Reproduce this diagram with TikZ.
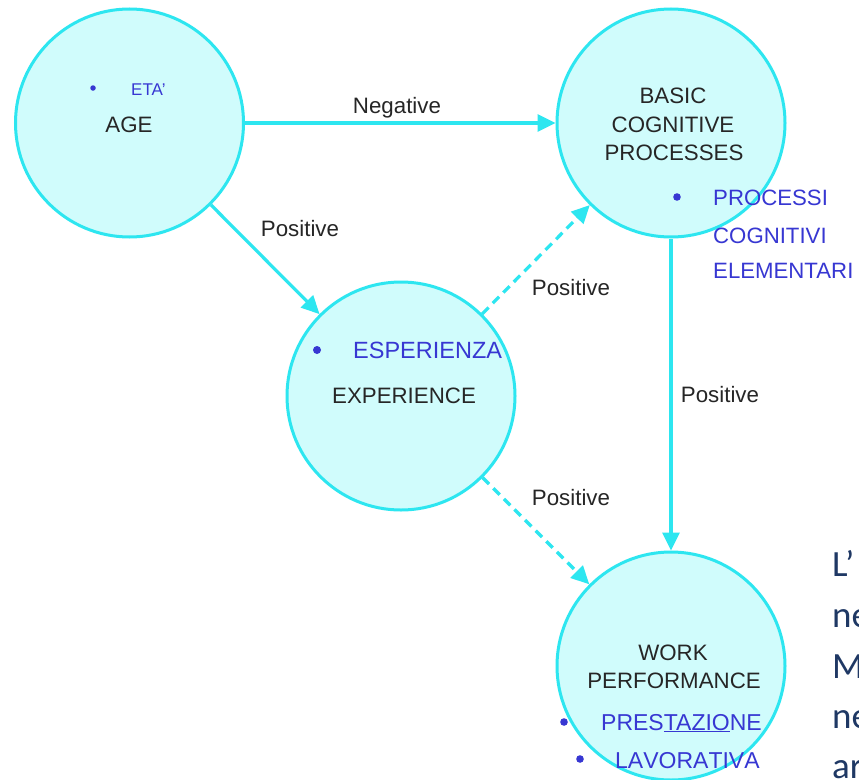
\documentclass[tikz,border=0pt]{standalone}
\usepackage{fontspec}
\setmainfont{Liberation Sans}
\newfontfamily\calib{Carlito}
\newfontfamily\nokern[Kerning=Off]{Liberation Sans}
\usetikzlibrary{arrows.meta}
\definecolor{cyanline}{RGB}{45,230,240}
\definecolor{cyanfill}{RGB}{208,252,252}
\definecolor{bluetxt}{RGB}{55,55,210}
\definecolor{navy}{RGB}{31,56,100}
\begin{document}
\begin{tikzpicture}[x=1pt,y=-1pt,
  circ/.style={circle,draw=cyanline,fill=cyanfill,line width=3pt,minimum size=228pt,inner sep=0pt},
  conn/.style={draw=cyanline,line width=3.2pt,-{Triangle[length=18pt,width=17pt]}},
  dashconn/.style={conn,dash pattern=on 9pt off 6pt},
  lbl/.style={font=\fontsize{22.3}{22}\selectfont,text=black!85,inner sep=0pt,anchor=base},
  blu/.style={font=\fontsize{22.2}{22}\selectfont,text=bluetxt,inner sep=0pt,anchor=base west},
  dot/.style={circle,fill=bluetxt,inner sep=0pt,minimum size=7.6pt},
  side/.style={font=\calib\fontsize{37}{37}\selectfont,text=navy,inner sep=0pt,anchor=base west}
]
\useasboundingbox (0,0) rectangle (859,779);
\clip (0,0) rectangle (859,779);
\fill[white] (0,0) rectangle (859,779);

% circles
\node[circ] (age) at (129.5,123) {};
\node[circ] (basic) at (671,123) {};
\node[circ] (exp) at (401,396) {};
\node[circ] (work) at (671,666) {};

% connectors
\draw[conn] (age) -- (basic);
\draw[conn] (age) -- (exp);
\draw[dashconn] (exp) -- (basic);
\draw[dashconn] (exp) -- (work);
\draw[conn] (basic.south) -- (work.north);

% connector labels
\node[lbl] (lneg) at (397,113) {Negative};
\node[lbl] (lp1) at (300,236) {Positive};
\node[lbl] (lp2) at (571,295) {Positive};
\node[lbl] (lp3) at (720,402) {Positive};
\node[lbl] (lp4) at (571,505) {Positive};

% circle texts
\node[lbl] (tage) at (129,132) {AGE};
\node[lbl] (tb1) at (673,103) {BASIC};
\node[lbl] (tb2) at (673,132) {COGNITIVE};
\node[lbl] (tb3) at (674,160) {PROCESSES};
\node[lbl] (texp) at (404,403) {EXPERIENCE};
\node[lbl] (tw1) at (673,660) {WORK};
\node[lbl] (tw2) at (674,688) {PERFORMANCE};

% Italian (blue) texts
\node[dot,minimum size=5.5pt] (d1) at (93,88) {};
\node[blu,font=\fontsize{17}{17}\selectfont] (eta) at (131,95) {ETA’};
\node[dot] (d2) at (677,197) {};
\node[blu] (pr1) at (713,205) {PROCESSI};
\node[blu] (pr2) at (713,243) {COGNITIVI};
\node[blu] (pr3) at (713,278) {ELEMENTARI};
\node[dot,minimum size=8pt] (d3) at (317,350) {};
\node[blu,font=\fontsize{23.5}{23}\selectfont] (esp) at (353,358) {ESPERIENZA};
\node[dot] (d4) at (564,722) {};
\node[blu,font=\fontsize{23}{23}\selectfont] (pre) at (601,730) {PRES\underline{TAZIO}NE};
\node[dot] (d5) at (580,759) {};
\node[blu,font=\nokern\fontsize{23}{23}\selectfont] (lav) at (615,768) {LAVORATIVA};

% side text (cut off at the right edge, as in the reference)
\node[side] (s1) at (832,576) {L’};
\node[side] (s2) at (832,627) {ne};
\node[side] (s3) at (832,678) {M};
\node[side] (s4) at (832,728) {ne};
\node[side] (s5) at (832,778) {ar};
\end{tikzpicture}
\end{document}
